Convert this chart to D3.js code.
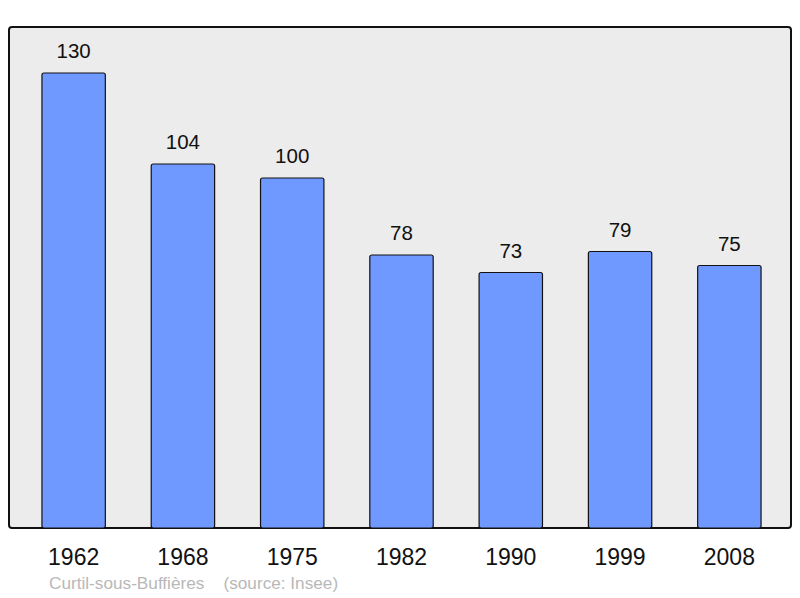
<!DOCTYPE html>
<html>
<head>
<meta charset="utf-8">
<script src="https://cdn.jsdelivr.net/npm/d3@7"></script>
<style>
  body { margin: 0; background: #fff; }
  svg { display: block; font-family: "Liberation Sans", Arial, sans-serif; }
</style>
</head>
<body>
<svg id="chart"></svg>
<script>
// Données
const years = ["1962", "1968", "1975", "1982", "1990", "1999", "2008"];
const population = [130, 104, 100, 78, 73, 79, 75];
const commune = "Curtil-sous-Buffières";
const source = "(source: Insee)";

const width = 800;
const height = 598;
const frame = { left: 9, top: 27, right: 791, bottom: 528 };

const svg = d3.select("#chart")
    .attr("width", width)
    .attr("height", height);

const data = years.map((y, i) => ({ year: y, value: population[i] }));

const x = d3.scaleBand()
    .domain(years)
    .range([19, 784])
    .paddingInner(0.42)
    .paddingOuter(0.21);

// 3.5 px per inhabitant
const y = d3.scaleLinear()
    .domain([0, (frame.bottom - frame.top) / 3.5])
    .range([frame.bottom, frame.top]);

// Cadre
svg.append("rect")
    .attr("x", frame.left)
    .attr("y", frame.top)
    .attr("width", frame.right - frame.left)
    .attr("height", frame.bottom - frame.top)
    .attr("rx", 3)
    .attr("fill", "#ececec")
    .attr("stroke", "#111")
    .attr("stroke-width", 2);

// Barres
svg.selectAll(".bar")
    .data(data)
    .enter()
    .append("rect")
    .attr("class", "bar")
    .attr("x", d => x(d.year))
    .attr("y", d => y(d.value))
    .attr("width", x.bandwidth())
    .attr("height", d => y(0) - y(d.value))
    .attr("rx", 2)
    .attr("fill", "#7099ff")
    .attr("stroke", "#111")
    .attr("stroke-width", 1.2);

// Valeurs
svg.selectAll(".val")
    .data(data)
    .enter()
    .append("text")
    .attr("x", d => x(d.year) + x.bandwidth() / 2)
    .attr("y", d => y(d.value) - 15)
    .attr("text-anchor", "middle")
    .attr("font-size", 20.5)
    .attr("fill", "#111")
    .text(d => d.value);

// Axe X (années)
const xAxis = svg.append("g")
    .attr("transform", `translate(0,${frame.bottom})`)
    .call(d3.axisBottom(x).tickSize(0).tickPadding(21));
xAxis.select(".domain").remove();
xAxis.selectAll("text")
    .attr("font-size", 23)
    .attr("font-family", "Liberation Sans, Arial, sans-serif")
    .attr("fill", "#111");

// Source
svg.append("text")
    .attr("x", 49)
    .attr("y", 589)
    .attr("font-size", 17.2)
    .attr("fill", "#b8b8b8")
    .style("white-space", "pre")
    .text(commune + "    " + source);
</script>
</body>
</html>
